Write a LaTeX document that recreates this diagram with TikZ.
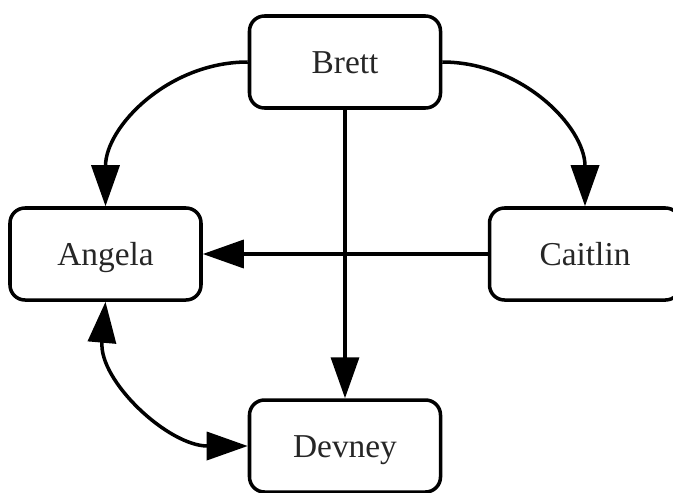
\documentclass[tikz,border=0pt]{standalone}
\usepackage{fontspec}
\setmainfont{Liberation Serif}
\usetikzlibrary{arrows.meta}

\begin{document}
\begin{tikzpicture}[
   person/.style={draw,rounded corners=0.3cm,line width=2pt,fill=white,
      minimum width=3.82cm,minimum height=1.84cm,inner sep=0pt,
      text height=0.6cm,text depth=0.16cm,
      text=black!85,font=\fontsize{19}{22}\selectfont},
   link/.style={line width=2pt,-{Triangle[length=0.82cm,width=0.56cm]}},
   both/.style={line width=2pt,{Triangle[length=0.82cm,width=0.56cm]}-{Triangle[length=0.82cm,width=0.56cm]}}]
   \useasboundingbox (0,0) rectangle (13.46,-9.84);
   \node[person] (brett) at (6.9,-1.24) {Brett};
   \node[person] (angela) at (2.11,-5.08) {Angela};
   \node[person] (caitlin) at (11.7,-5.08) {Caitlin};
   \node[person] (devney) at (6.9,-8.92) {Devney};
   \draw[link] (brett.west) to[out=180,in=90] (angela.north);
   \draw[link] (brett.east) to[out=0,in=90] (caitlin.north);
   \draw[link] (brett.south) -- (devney.north);
   \draw[link] (caitlin.west) -- (angela.east);
   \draw[both] (angela.south) to[out=-95,in=180] (devney.west);
\end{tikzpicture}
\end{document}
